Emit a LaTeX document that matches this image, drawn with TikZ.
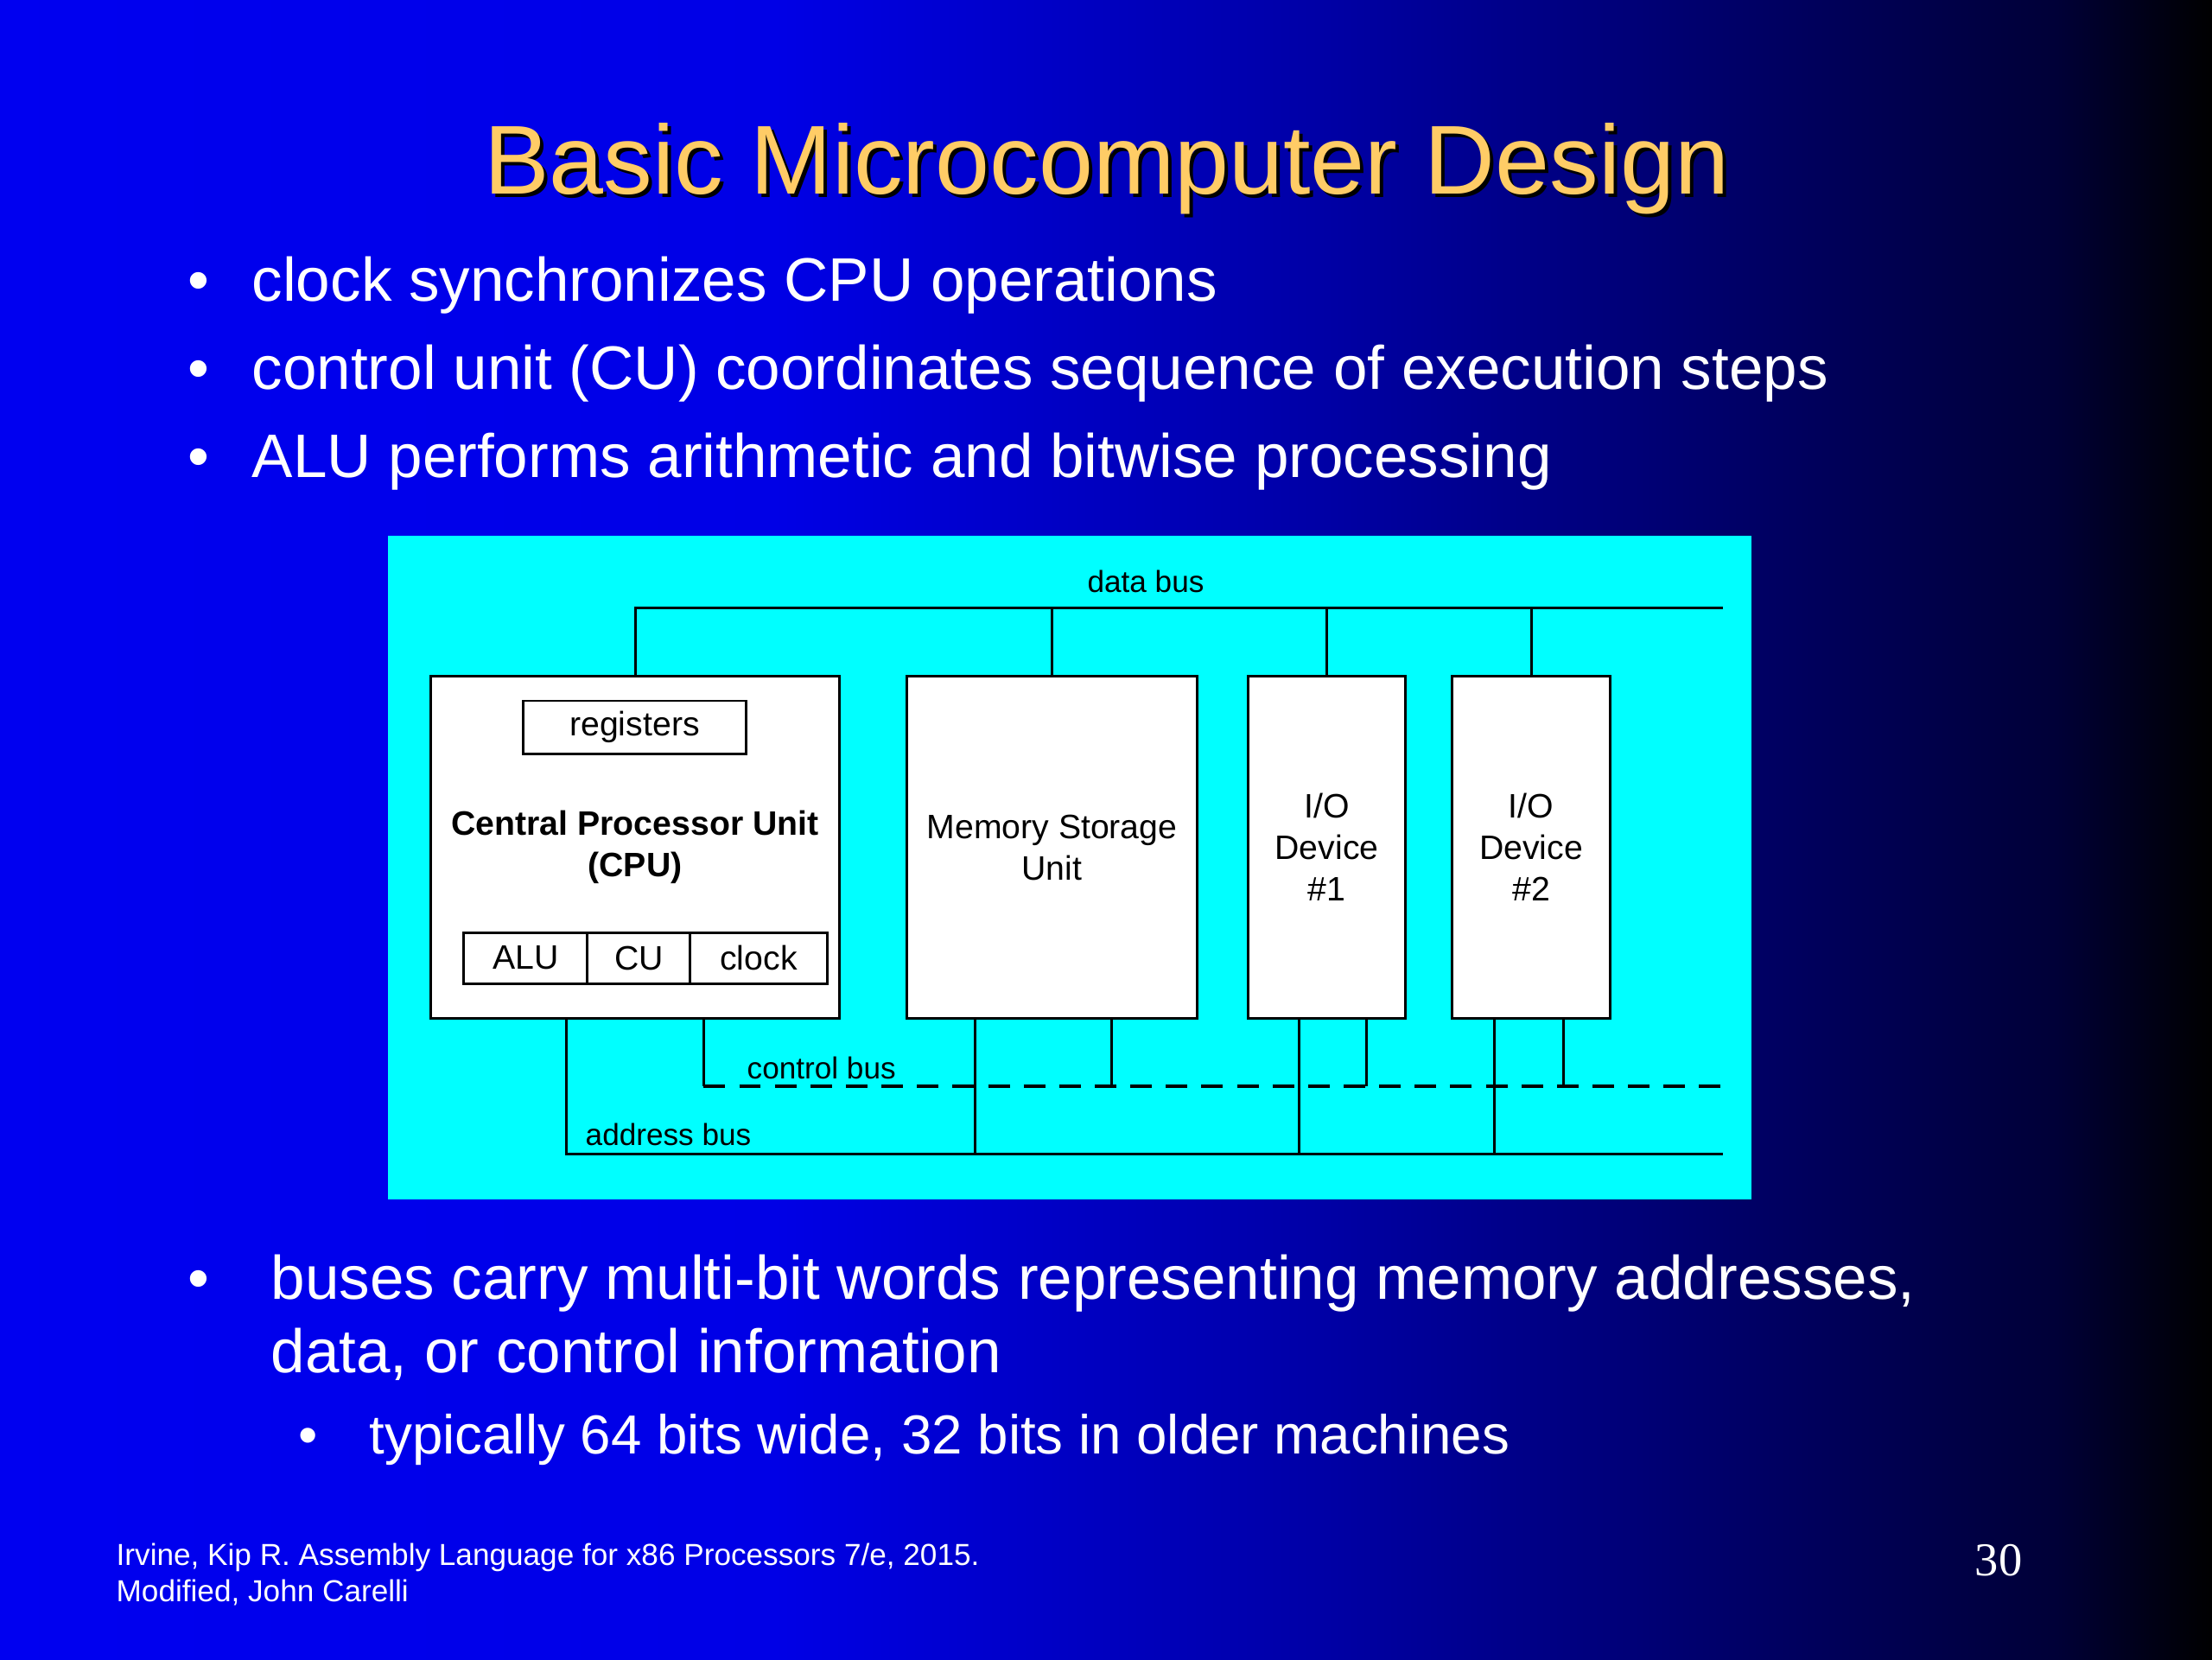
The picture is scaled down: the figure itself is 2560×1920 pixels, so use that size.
\documentclass[tikz,border=0pt]{standalone}
\usepackage{fontspec}
\setmainfont{Liberation Sans}
\newfontfamily\numfont{Liberation Serif}
\usetikzlibrary{calc}
\definecolor{bgA}{RGB}{0,0,240}
\definecolor{bgB}{RGB}{0,0,230}
\definecolor{bgC}{RGB}{0,0,165}
\definecolor{bgD}{RGB}{0,0,105}
\definecolor{bgE}{RGB}{0,0,55}
\definecolor{cPanel}{RGB}{0,255,255}
\definecolor{cTitle}{RGB}{255,204,102}
% the path is fitted to 25bp--75bp of the shading
\pgfdeclarehorizontalshading{slidebg}{100bp}{color(0bp)=(bgA); color(25bp)=(bgA);
  color(42.5bp)=(bgB); color(55bp)=(bgC); color(64bp)=(bgD); color(71.5bp)=(bgE);
  color(75bp)=(black); color(100bp)=(black)}

\begin{document}
\begin{tikzpicture}[
  x=0.01cm,y=-0.01cm,
  title/.style={inner sep=0pt,anchor=base,font=\fontsize{32.2}{38}\selectfont,text=cTitle},
  point/.style={inner sep=0pt,anchor=base west,text=white,font=\fontsize{20.2}{24}\selectfont},
  subpoint/.style={point,font=\fontsize{18.1}{22}\selectfont},
  dot/.style={inner sep=0pt,anchor=base,text=white},
  ref/.style={inner sep=0pt,anchor=base west,text=white,font=\fontsize{10}{12}\selectfont},
  box/.style={draw=black,line width=0.85pt,fill=white,inner sep=0pt,align=center,
              font=\fontsize{11.15}{13.66}\selectfont},
  buslbl/.style={inner sep=0pt,font=\fontsize{10}{12}\selectfont},
  bus/.style={line width=0.85pt},
  ctlbus/.style={line width=1.4pt,dash pattern=on 7.1pt off 4.6pt},
]
\useasboundingbox (0,0) rectangle (2560,1920);
\shade[shading=slidebg] (0,0) rectangle (2560,1920);

% title and top bullets
\node[title,text=black] (titleshd) at (1285,228) {Basic Microcomputer Design};
\node[title] (title) at (1281,224) {Basic Microcomputer Design};
\node[dot,font=\fontsize{20.2}{24}\selectfont] (b1) at (230,348) {•};
\node[point] (t1) at (291,348) {clock synchronizes CPU operations};
\node[dot,font=\fontsize{20.2}{24}\selectfont] (b2) at (230,450) {•};
\node[point] (t2) at (291,450) {control unit (CU) coordinates sequence of execution steps};
\node[dot,font=\fontsize{20.2}{24}\selectfont] (b3) at (230,552) {•};
\node[point] (t3) at (291,552) {ALU performs arithmetic and bitwise processing};

% diagram panel
\fill[cPanel] (449,620) rectangle (2027,1388);

% units
\node[box,minimum width=4.72cm,minimum height=3.95cm] (cpu) at (735,980.5) {};
\node[box,minimum width=3.35cm,minimum height=3.95cm] (mem) at (1217.5,980.5) {Memory Storage\\Unit};
\node[box,minimum width=1.81cm,minimum height=3.95cm] (io1) at (1535.5,980.5) {I/O\\Device\\\#1};
\node[box,minimum width=1.82cm,minimum height=3.95cm] (io2) at (1772,980.5) {I/O\\Device\\\#2};
% inside the CPU
\node[box,minimum width=2.57cm,minimum height=0.61cm] (regs) at (734.5,841.5) {registers};
\node[inner sep=0pt,align=center,font=\fontsize{11.15}{13.66}\selectfont\bfseries] (cpulbl)
  at (735,980.5) {Central Processor Unit\\(CPU)};
\node[box,minimum width=1.43cm,minimum height=0.59cm] (alu) at (608.5,1108.5) {ALU};
\node[box,minimum width=1.19cm,minimum height=0.59cm] (cu) at (739.5,1108.5) {CU};
\node[box,minimum width=1.58cm,minimum height=0.59cm] (clk) at (878,1108.5) {clock};

% bus ends
\coordinate (dbEnd) at (1994,703);
\coordinate (cbEnd) at (1994,1257);
\coordinate (abEnd) at (1994,1335);
\foreach \u/\a/\c in {cpu/.333/.667,mem/.236/.704,io1/.326/.751,io2/.27/.70} {
  \coordinate (\u-a) at ($(\u.south west)!\a!(\u.south east)$);
  \coordinate (\u-c) at ($(\u.south west)!\c!(\u.south east)$);
}

% data bus
\draw[bus] (cpu.north) |- (dbEnd);
\foreach \u in {mem,io1,io2}
  \draw[bus] (\u.north) -- (\u.north |- dbEnd);
% control bus
\draw[bus] (cpu-c) -- (cpu-c |- cbEnd);
\draw[ctlbus] (cpu-c |- cbEnd) -- (cbEnd);
% address bus
\draw[bus] (cpu-a) |- (abEnd);
\foreach \u in {mem,io1,io2} {
  \draw[bus] (\u-a) -- (\u-a |- abEnd);
  \draw[bus] (\u-c) -- (\u-c |- cbEnd);
}
\node[buslbl,anchor=base] (dblbl) at (1326,685) {data bus};
\node[buslbl,anchor=base west] (cblbl) at (864,1248) {control bus};
\node[buslbl,anchor=base west] (ablbl) at (677,1325) {address bus};

% lower bullets
\node[dot,font=\fontsize{20.2}{24}\selectfont] (b4) at (230,1503) {•};
\node[point] (t4) at (313,1503) {buses carry multi-bit words representing memory addresses,};
\node[point] (t4b) at (313,1588) {data, or control information};
\node[dot,font=\fontsize{18.1}{22}\selectfont] (b5) at (357,1682) {•};
\node[subpoint] (t5) at (427,1682) {typically 64 bits wide, 32 bits in older machines};

% footer
\node[ref] (ref1) at (134,1811) {Irvine, Kip R. Assembly Language for x86 Processors 7/e, 2015.};
\node[ref] (ref2) at (134,1853) {Modified, John Carelli};
\node[inner sep=0pt,anchor=base east,text=white,font=\numfont\fontsize{15.5}{18}\selectfont]
  (pgno) at (2341,1823) {30};
\end{tikzpicture}
\end{document}
